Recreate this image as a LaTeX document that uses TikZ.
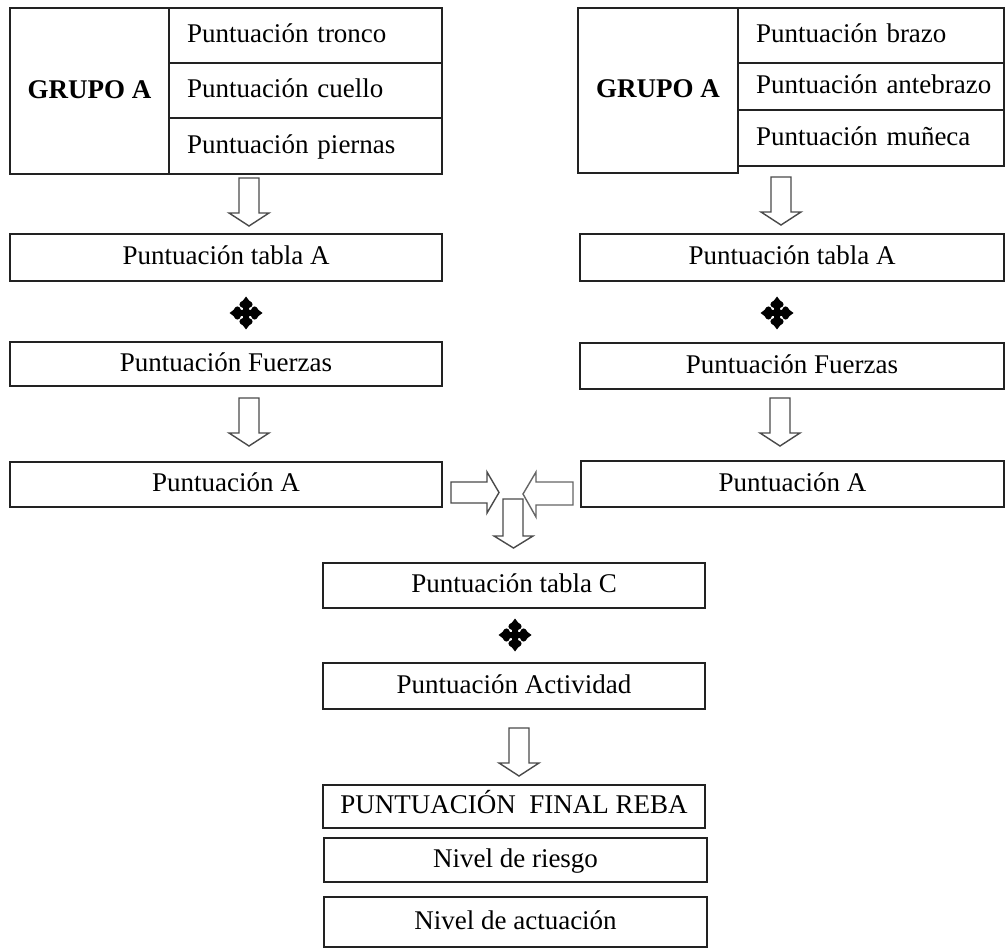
\documentclass[tikz,border=0pt]{standalone}
\usepackage{fontspec}
\setmainfont{Liberation Serif}
\definecolor{boxc}{HTML}{222222}
\definecolor{arrc}{HTML}{4A4A4A}
\begin{document}
\begin{tikzpicture}[x=1pt,y=-1pt,
  txt/.style={font=\fontsize{27}{31}\selectfont, text height=20pt, text depth=5.5pt},
  box/.style={draw=boxc, line width=1.6pt, inner sep=0pt, txt},
  cell/.style={box, align=left},
  arr/.style={draw=arrc, line width=1.4pt, fill=white, line join=miter},
  dnarrow/.pic={\draw[arr] (-10,0) -- (10,0) -- (10,35) -- (20,35) -- (0,48) -- (-20,35) -- (-10,35) -- cycle;},
  plussym/.pic={
    \fill (0,0) circle (4.5);
    \foreach \r in {0,90,180,270}{
      \fill[rotate=\r] (-3,0) -- (-3,5) .. controls (-8,6.5) and (-7.5,10.5) .. (-3,12.5) -- (0,16.5) -- (3,12.5) .. controls (7.5,10.5) and (8,6.5) .. (3,5) -- (3,0) -- cycle;
    }
  }
]
\useasboundingbox (0,0) rectangle (1006,949);

% ---- left group table
\node[box, minimum width=159pt, minimum height=166pt, font=\bfseries\fontsize{27}{31}\selectfont] (gA) at (89.5,91) {GRUPO A};
\node[cell, minimum width=273pt, minimum height=55pt, text width=237pt] (tronco) at (305.5,35.5) {Puntuación tronco};
\node[cell, minimum width=273pt, minimum height=55pt, text width=237pt] (cuello) at (305.5,90.5) {Puntuación cuello};
\node[cell, minimum width=273pt, minimum height=56pt, text width=237pt] (piernas) at (305.5,146) {Puntuación piernas};

% ---- right group table
\node[box, minimum width=160pt, minimum height=165pt, font=\bfseries\fontsize{27}{31}\selectfont] (gB) at (658,90.5) {GRUPO A};
\node[cell, minimum width=266pt, minimum height=55pt, text width=230pt] (brazo) at (871,35.5) {Puntuación brazo};
\node[cell, minimum width=266pt, minimum height=47pt, text width=230pt] (antebrazo) at (871,86.5) {\mbox{Puntuación antebrazo}};
\node[cell, minimum width=266pt, minimum height=56pt, text width=230pt] (muneca) at (871,138) {Puntuación muñeca};

% ---- left column
\node[box, minimum width=432pt, minimum height=47pt] (ltA) at (226,257.5) {Puntuación tabla A};
\node[box, minimum width=432pt, minimum height=44pt] (lF) at (226,364) {Puntuación Fuerzas};
\node[box, minimum width=432pt, minimum height=45pt] (lA) at (226,484.5) {Puntuación A};

% ---- right column
\node[box, minimum width=424pt, minimum height=47pt] (rtA) at (792,257.5) {Puntuación tabla A};
\node[box, minimum width=424pt, minimum height=46pt] (rF) at (792,366) {Puntuación Fuerzas};
\node[box, minimum width=423pt, minimum height=46pt] (rA) at (792.5,484) {Puntuación A};

% ---- middle column
\node[box, minimum width=382pt, minimum height=45pt] (tC) at (514,585.5) {Puntuación tabla C};
\node[box, minimum width=382pt, minimum height=46pt] (act) at (514,686) {Puntuación Actividad};
\node[box, minimum width=382pt, minimum height=43pt] (final) at (514,806.5) {PUNTUACIÓN\ \ FINAL REBA};
\node[box, minimum width=383pt, minimum height=44pt] (riesgo) at (515.5,860) {Nivel de riesgo};
\node[box, minimum width=383pt, minimum height=50pt] (actu) at (515.5,922) {Nivel de actuación};

% ---- plus symbols
\pic at (246,313) {plussym};
\pic at (777,313) {plussym};
\pic at (515,635) {plussym};

% ---- block arrows
\pic at (249,178) {dnarrow};
\pic at (249,398) {dnarrow};
\pic at (781,177) {dnarrow};
\pic at (780,398) {dnarrow};
\pic at (519,728) {dnarrow};

% merge arrows
\draw[arr] (503,499) -- (523,499) -- (523,536) -- (533,536) -- (513.5,548) -- (494,536) -- (503,536) -- cycle;
\draw[arr] (451,482) -- (487,482) -- (487,472) -- (499,492.5) -- (487,513) -- (487,503) -- (451,503) -- cycle;
\draw[arr, draw=arrc!85] (573,482) -- (536,482) -- (536,472) -- (523,494) -- (536,517) -- (536,505) -- (573,505) -- cycle;
\end{tikzpicture}
\end{document}
